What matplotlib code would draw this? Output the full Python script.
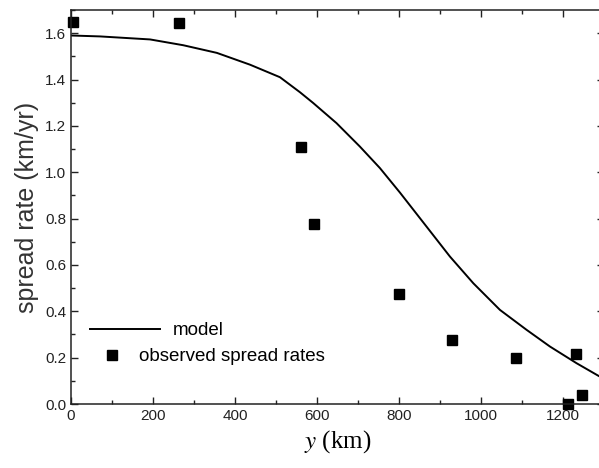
import numpy as np
import matplotlib
matplotlib.use("Agg")
import matplotlib.pyplot as plt
from matplotlib.ticker import MultipleLocator

plt.rcParams['font.family'] = ['Liberation Sans', 'DejaVu Sans']
plt.rcParams['mathtext.fontset'] = 'stix'

# model curve
model_y = [0, 71, 193, 274, 356, 437, 510, 559, 591, 648, 705, 754, 803,
           868, 925, 982, 1047, 1112, 1169, 1234, 1288, 1300]
model_rate = [1.59, 1.586, 1.573, 1.548, 1.515, 1.464, 1.41, 1.345, 1.299,
              1.212, 1.111, 1.018, 0.912, 0.765, 0.636, 0.521, 0.406, 0.320,
              0.248, 0.176, 0.121, 0.11]

# observed spread rates
obs_y = [5, 263, 561, 593, 800, 929, 1086, 1213, 1233, 1248]
obs_rate = [1.65, 1.645, 1.11, 0.775, 0.475, 0.275, 0.20, 0.0, 0.215, 0.037]

fig = plt.figure(figsize=(5.99, 4.68), dpi=100)
ax = fig.add_axes([71/599, 64/468, (603.6-71)/599, 394/468])

l1, = ax.plot(model_y, model_rate, color='black', lw=1.4, label='model')
l2, = ax.plot(obs_y, obs_rate, ls='none', marker='s', ms=7, color='black',
              clip_on=False, label='observed spread rates')

ax.set_xlim(0, 1300)
ax.set_ylim(0, 1.7)
ax.xaxis.set_major_locator(MultipleLocator(200))
ax.xaxis.set_minor_locator(MultipleLocator(100))
ax.yaxis.set_major_locator(MultipleLocator(0.2))
ax.yaxis.set_minor_locator(MultipleLocator(0.1))
ax.yaxis.set_major_formatter(plt.FormatStrFormatter('%.1f'))
ax.tick_params(which='both', direction='in', top=True, right=True,
               labelsize=11, width=1.0, colors='#222222')
ax.tick_params(which='major', length=5)
ax.tick_params(which='minor', length=3)
for sp in ax.spines.values():
    sp.set_linewidth(1.1)
    sp.set_color('#222222')

ax.set_ylabel('spread rate (km/yr)', fontsize=18, color='#333333', labelpad=4)
ax.set_xlabel('$y$ (km)', fontsize=18, family='Liberation Serif', labelpad=4)

leg1 = ax.legend(handles=[l1], loc='center left', bbox_to_anchor=(0.0357, 0.186),
                 frameon=False, fontsize=13.5, handlelength=3.73, handletextpad=0.69,
                 borderpad=0, borderaxespad=0)
ax.add_artist(leg1)
ax.legend(handles=[l2], loc='center left', bbox_to_anchor=(0.0593, 0.12),
          frameon=False, fontsize=13.5, handlelength=1.0, handletextpad=0.94,
          borderpad=0, borderaxespad=0, numpoints=1)

fig.savefig('out.png', dpi=100)
